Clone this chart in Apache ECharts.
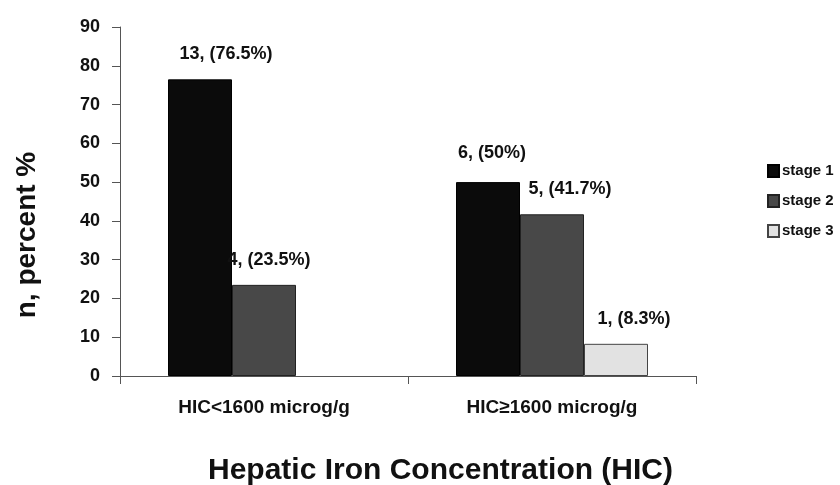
<!DOCTYPE html>
<html>
<head>
<meta charset="utf-8">
<script src="https://cdn.jsdelivr.net/npm/echarts@6/dist/echarts.min.js"></script>
<style>
  html, body { margin: 0; padding: 0; background: #fff; }
  #chart { width: 840px; height: 485px; }
</style>
</head>
<body>
<div id="chart"></div>
<script>
// categories and values
var categories = ["HIC<1600 microg/g", "HIC\u22651600 microg/g"];
var stageNames = ["stage 1", "stage 2", "stage 3"];
var stage1Pct = [76.5, 50];
var stage2Pct = [23.5, 41.7];
var stage3Pct = [0, 8.3];
var stage1N = [13, 6];
var stage2N = [4, 5];
var stage3N = [null, 1];
var yTicks = [0, 10, 20, 30, 40, 50, 60, 70, 80, 90];

var font = "Liberation Sans, Arial, sans-serif";

// labels in the source sit a little right of the bar centres
function makeSeries(name, pct, counts, color, border, shifts) {
  return {
    name: name,
    type: "bar",
    barWidth: 64,
    barGap: "0%",
    itemStyle: { color: color, borderColor: border, borderWidth: 1 },
    data: pct.map(function (v, i) {
      return {
        value: v,
        itemStyle: v === 0 ? { borderWidth: 0 } : undefined,
        label: {
          show: counts[i] != null,
          offset: shifts[i]
        }
      };
    }),
    label: {
      position: "top",
      distance: 16,
      fontFamily: font,
      fontWeight: "bold",
      fontSize: 18,
      color: "#111",
      formatter: function (p) {
        return counts[p.dataIndex] + ", (" + p.value + "%)";
      }
    }
  };
}

var chart = echarts.init(document.getElementById("chart"));
chart.setOption({
  backgroundColor: "#fff",
  animation: false,
  title: {
    text: "Hepatic Iron Concentration (HIC)",
    left: 208,
    top: 456,
    padding: 0,
    textStyle: { fontFamily: font, fontWeight: "bold", fontSize: 30, color: "#111" }
  },
  graphic: [{
    type: "text",
    x: 27,
    y: 235,
    rotation: Math.PI / 2,
    style: {
      text: "n, percent %",
      fontFamily: font,
      fontWeight: "bold",
      fontSize: 28,
      fill: "#111",
      textAlign: "center",
      textVerticalAlign: "middle"
    }
  }],
  grid: { left: 120, right: 144, top: 27, bottom: 109 },
  legend: {
    orient: "vertical",
    left: 762,
    top: 158,
    itemWidth: 11,
    itemHeight: 12,
    itemGap: 14,
    icon: "rect",
    data: stageNames,
    textStyle: { fontFamily: font, fontWeight: "bold", fontSize: 15, lineHeight: 16, color: "#111", padding: [0, 0, 0, -2] }
  },
  xAxis: {
    type: "category",
    data: categories,
    axisLine: { lineStyle: { color: "#555", width: 1 } },
    axisTick: { show: true, length: 8, lineStyle: { color: "#555" } },
    axisLabel: { margin: 22, fontFamily: font, fontWeight: "bold", fontSize: 19, color: "#111" }
  },
  yAxis: {
    type: "value",
    min: yTicks[0],
    max: yTicks[yTicks.length - 1],
    interval: 10,
    splitLine: { show: false },
    axisLine: { show: true, lineStyle: { color: "#555", width: 1 } },
    axisTick: { show: true, length: 8, lineStyle: { color: "#555" } },
    axisLabel: { margin: 20, fontFamily: font, fontWeight: "bold", fontSize: 18, color: "#111" }
  },
  series: [
    makeSeries(stageNames[0], stage1Pct, stage1N, "#0b0b0b", "#000", [[26, 0], [4, -4]]),
    makeSeries(stageNames[1], stage2Pct, stage2N, "#484848", "#222", [[5, 0], [18, 0]]),
    makeSeries(stageNames[2], stage3Pct, stage3N, "#e2e2e2", "#444", [[0, 0], [18, 0]])
  ]
});
</script>
</body>
</html>
